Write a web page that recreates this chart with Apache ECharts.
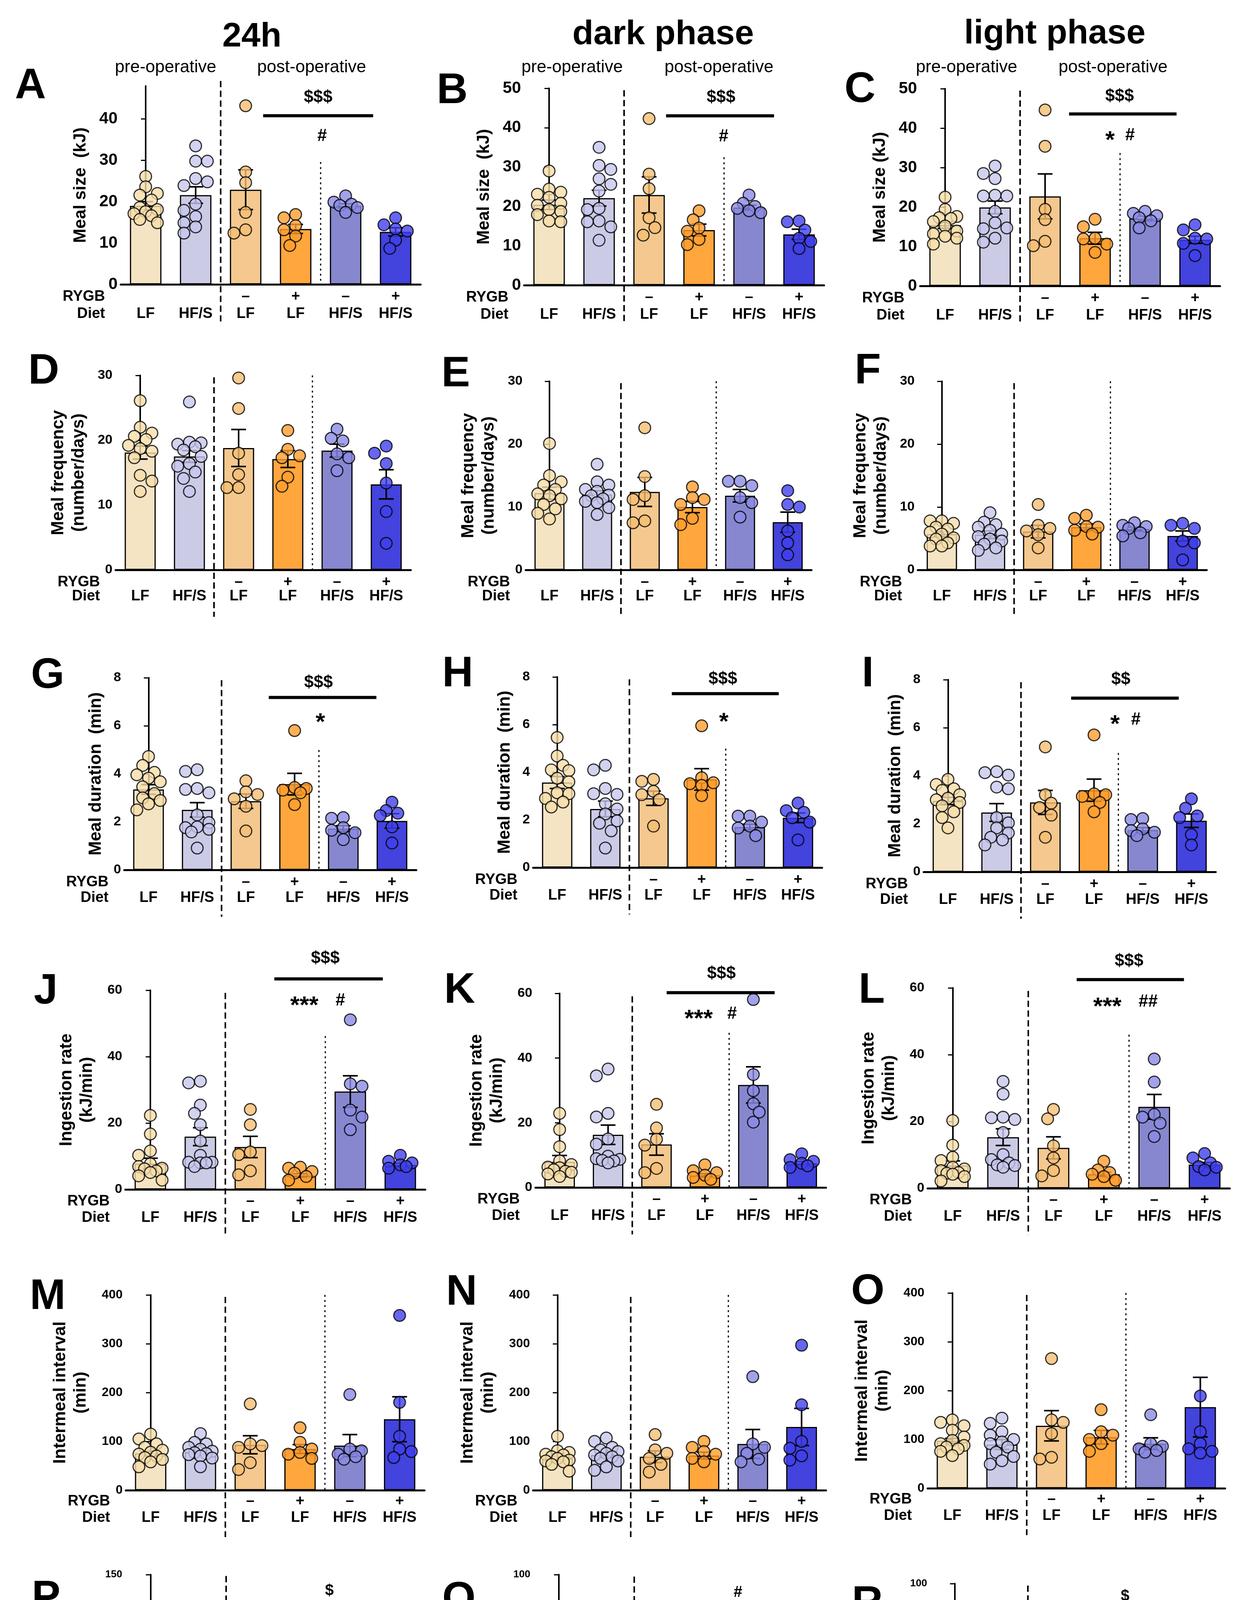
<!DOCTYPE html>
<html><head><meta charset="utf-8">
<script src="https://cdn.jsdelivr.net/npm/echarts@6/dist/echarts.min.js"></script>
<style>html,body{margin:0;padding:0;background:#fff}#c{width:3170px;height:4708px}</style>
</head><body><div id="c"></div>
<script>
// ---------- categories ----------
const categories = ['LF', 'HF/S', 'LF', 'LF', 'HF/S', 'HF/S'];
const rygbLabels = ['', '', '–', '+', '–', '+'];

// ---------- data ----------
const A_means = [19.0, 21.6, 22.9, 13.4, 19.0, 12.7];
const A_sems = [1.0, 2.0, 4.8, 1.1, 0.5, 1.0];
const A_points = [
  [26.1, 23.6, 22.0, 21.6, 20.4, 18.6, 18.1, 17.6, 17.1, 16.6, 15.7, 14.9],
  [33.5, 29.8, 29.8, 25.6, 24.8, 23.9, 19.4, 17.9, 16.4, 14.9, 13.9, 12.4],
  [43.2, 27.2, 24.6, 17.4, 13.2, 12.4],
  [16.9, 16.1, 14.2, 13.2, 11.7, 9.4],
  [21.4, 19.9, 19.4, 19.1, 18.6, 17.4],
  [16.1, 14.4, 13.4, 12.9, 10.7, 8.7]];

const B_means = [20.4, 22.1, 22.9, 14.0, 19.7, 12.9];
const B_sems = [1.2, 2.0, 4.6, 1.5, 0.6, 1.3];
const B_points = [
  [29.0, 24.4, 23.6, 23.1, 22.3, 20.8, 20.3, 19.2, 18.7, 17.9, 16.3, 16.1],
  [35.0, 30.4, 29.4, 27.0, 25.6, 23.9, 19.5, 19.2, 16.3, 16.1, 14.8, 11.4],
  [42.3, 28.2, 24.5, 17.1, 14.6, 12.7],
  [18.9, 16.6, 14.5, 13.7, 11.6, 10.3],
  [22.9, 20.8, 20.0, 19.5, 18.9, 18.4],
  [16.3, 16.1, 14.0, 11.9, 11.1, 9.3]];

const C_means = [15.4, 19.9, 22.7, 12.1, 17.1, 11.7];
const C_sems = [0.8, 1.6, 5.7, 1.5, 0.6, 0.9];
const C_points = [
  [22.5, 19.4, 17.6, 17.3, 17.1, 16.3, 15.2, 13.9, 13.2, 12.6, 12.1, 10.6],
  [30.4, 28.5, 27.2, 23.0, 22.8, 22.8, 18.9, 16.0, 14.7, 14.5, 12.1, 11.1],
  [44.6, 35.4, 19.4, 16.8, 11.3, 10.2],
  [16.9, 15.0, 12.1, 11.9, 10.6, 8.5],
  [18.9, 18.4, 17.8, 17.3, 16.5, 14.7],
  [15.5, 14.2, 12.1, 11.9, 10.8, 7.7]];

const D_means = [18.1, 17.5, 18.8, 17.1, 18.4, 13.2];
const D_sems = [1.0, 0.9, 2.85, 1.3, 1.0, 2.25];
const D_points = [
  [26.1, 22.0, 21.1, 20.6, 20.1, 19.2, 18.7, 18.3, 17.3, 14.6, 13.7, 12.1],
  [25.9, 19.7, 19.6, 19.4, 19.0, 18.5, 17.5, 16.4, 16.0, 15.1, 14.1, 12.1],
  [29.6, 24.9, 18.0, 14.7, 12.7, 12.7],
  [21.5, 18.6, 17.6, 17.3, 14.3, 12.9],
  [21.7, 20.3, 19.9, 17.9, 17.3, 15.3],
  [19.1, 18.0, 16.4, 13.4, 9.0, 4.1]];

const E_means = [12.2, 12.0, 12.4, 10.0, 11.8, 7.6];
const E_sems = [0.95, 0.6, 2.3, 0.9, 1.0, 1.6];
const E_points = [
  [20.1, 15.0, 14.0, 13.5, 12.8, 12.1, 11.8, 11.3, 10.4, 9.7, 9.0, 8.1],
  [16.8, 14.0, 13.5, 12.8, 12.5, 11.9, 11.8, 11.3, 10.9, 10.7, 9.9, 8.8],
  [22.6, 14.85, 11.8, 11.2, 7.8, 7.5],
  [13.2, 11.5, 11.2, 10.4, 8.2, 7.2],
  [14.1, 14.1, 13.4, 11.5, 10.7, 8.4],
  [12.6, 10.4, 10.0, 6.2, 4.3, 2.4]];

const F_means = [5.7, 5.6, 6.1, 6.8, 6.5, 5.4];
const F_sems = [0.4, 0.6, 1.0, 0.5, 0.3, 0.8];
const F_points = [
  [7.8, 7.8, 7.4, 6.8, 6.5, 6.0, 5.7, 5.1, 4.9, 4.3, 3.8, 3.8],
  [9.1, 7.6, 7.2, 6.8, 6.3, 5.7, 5.3, 4.9, 4.6, 4.1, 3.5, 3.1],
  [10.4, 7.1, 6.6, 6.2, 5.6, 3.5],
  [8.7, 8.2, 6.9, 6.8, 6.3, 5.7],
  [7.5, 7.1, 6.9, 6.6, 5.9, 5.4],
  [7.4, 7.1, 6.6, 4.6, 4.3, 1.6]];

const G_means = [3.35, 2.5, 2.86, 3.57, 1.72, 2.04];
const G_sems = [0.2, 0.3, 0.3, 0.45, 0.12, 0.3];
const G_points = [
  [4.72, 4.35, 4.06, 3.96, 3.82, 3.67, 3.46, 3.18, 3.0, 2.89, 2.75, 2.5],
  [4.17, 4.1, 3.39, 3.35, 3.21, 2.29, 1.97, 1.79, 1.76, 1.69, 1.58, 0.91],
  [3.71, 3.25, 3.14, 2.96, 2.65, 1.62],
  [5.8, 3.43, 3.39, 3.32, 3.21, 2.72],
  [2.18, 2.15, 1.76, 1.65, 1.55, 1.26],
  [2.82, 2.47, 2.36, 2.26, 1.79, 1.12]];

const H_means = [3.57, 2.46, 2.91, 3.7, 1.70, 2.09];
const H_sems = [0.25, 0.33, 0.3, 0.45, 0.12, 0.2];
const H_points = [
  [5.46, 4.68, 4.29, 4.1, 4.07, 3.75, 3.6, 3.14, 3.1, 2.9, 2.75, 2.54],
  [4.29, 4.1, 3.32, 3.1, 3.07, 2.68, 2.46, 2.25, 1.96, 1.86, 1.54, 0.82],
  [3.7, 3.62, 3.2, 3.06, 2.85, 1.74],
  [5.95, 3.77, 3.56, 3.52, 3.45, 3.02],
  [2.16, 2.16, 1.91, 1.74, 1.66, 1.34],
  [2.71, 2.39, 2.32, 2.09, 1.91, 1.16]];

const I_means = [2.95, 2.47, 2.89, 3.4, 1.74, 2.13];
const I_sems = [0.15, 0.37, 0.5, 0.46, 0.1, 0.28];
const I_points = [
  [3.85, 3.64, 3.46, 3.39, 3.21, 3.07, 3.0, 2.89, 2.75, 2.5, 2.26, 1.83],
  [4.17, 4.13, 4.03, 3.53, 3.46, 2.26, 2.04, 1.83, 1.62, 1.44, 1.33, 1.12],
  [5.2, 3.21, 2.86, 2.68, 2.36, 1.44],
  [5.7, 3.25, 3.21, 3.14, 2.89, 2.5],
  [2.22, 2.18, 1.79, 1.72, 1.65, 1.51],
  [3.04, 2.65, 2.33, 2.26, 1.55, 1.12]];

const J_means = [7.8, 15.9, 12.8, 4.2, 29.5, 7.4];
const J_sems = [1.6, 2.7, 3.2, 0.5, 4.75, 0.5];
const J_points = [
  [22.3, 16.7, 11.6, 10.3, 7.7, 6.9, 6.4, 6.2, 5.6, 5.1, 4.1, 2.8],
  [32.6, 32.1, 25.4, 22.9, 19.5, 14.6, 10.3, 8.2, 8.2, 8.0, 8.0, 6.9],
  [24.1, 19.5, 11.3, 10.5, 5.6, 4.4],
  [6.7, 6.4, 5.4, 4.9, 3.9, 2.8],
  [51.1, 31.8, 31.1, 23.9, 21.8, 18.0],
  [10.3, 8.5, 8.0, 7.4, 6.9, 6.4]];

const K_means = [7.9, 16.3, 13.3, 3.8, 31.7, 7.5];
const K_sems = [2.0, 3.0, 3.3, 0.5, 5.6, 0.5];
const K_points = [
  [22.9, 17.9, 12.6, 8.2, 7.1, 6.3, 6.1, 5.5, 5.0, 4.7, 4.2, 3.4],
  [36.6, 34.5, 22.9, 21.8, 15.0, 13.4, 9.7, 8.9, 8.7, 8.4, 8.2, 7.6],
  [25.7, 18.4, 14.9, 13.1, 5.9, 4.6],
  [7.0, 5.2, 4.6, 3.8, 3.1, 2.5],
  [58.1, 34.9, 29.9, 25.9, 23.3, 20.2],
  [10.4, 8.6, 8.1, 7.5, 6.7, 6.2]];

const L_means = [6.8, 15.3, 12.1, 4.2, 24.4, 7.1];
const L_sems = [1.4, 2.5, 3.3, 0.6, 3.7, 0.6];
const L_points = [
  [20.3, 12.9, 9.3, 8.3, 6.3, 5.8, 5.3, 4.7, 4.5, 4.2, 3.5, 2.2],
  [32.0, 28.2, 21.3, 21.1, 20.6, 16.7, 10.1, 8.6, 7.6, 7.0, 6.8, 6.3],
  [23.6, 20.8, 12.7, 9.1, 5.3, 3.7],
  [8.1, 5.5, 4.7, 4.2, 3.5, 2.4],
  [38.7, 31.8, 22.1, 21.3, 19.5, 15.5],
  [10.4, 9.1, 7.6, 6.5, 6.3, 5.5]];

const M_means = [75.7, 77.4, 93.1, 84.4, 91.4, 145.4];
const M_sems = [5, 4, 18.5, 9, 22.6, 46];
const M_points = [
  [115, 105, 95, 88, 82, 78, 74, 70, 67, 63, 58, 48],
  [116, 98, 95, 88, 84, 80, 77, 75, 73, 70, 66, 48],
  [176.8, 94.9, 91.4, 87.9, 56.5, 42.5],
  [128, 98.3, 84.4, 77.4, 73.9, 65.2],
  [196, 84.4, 80.9, 73.9, 68.7, 63.5],
  [358, 180, 110.5, 84.4, 79.2, 67]];

const N_means = [65.2, 72.2, 68.7, 71.1, 94.9, 129.7];
const N_sems = [4, 5, 12, 7, 29.6, 38];
const N_points = [
  [110.5, 80.9, 77.4, 73.9, 72.2, 68.7, 65.2, 61.7, 60, 58.2, 53, 39],
  [107, 100, 87.9, 82.6, 79.2, 75.7, 72.2, 68.7, 65.2, 60, 47.8, 40.8],
  [114, 82.6, 75.7, 65.2, 53, 37.3],
  [100, 87.9, 79.2, 73.9, 65.2, 58.2],
  [232.6, 94.9, 87.9, 75.7, 63.5, 58.2],
  [297, 175, 100, 86, 70.4, 61.7]];

const O_means = [97.3, 89.6, 128, 104.6, 91.4, 166.3];
const O_sems = [5, 10, 31, 14, 12, 61];
const O_points = [
  [140, 135, 128, 119, 105, 98, 91.4, 87.9, 84.4, 80.9, 75.7, 67],
  [143.7, 133, 115.8, 108.8, 100, 94.9, 91.4, 84.4, 73.9, 65.2, 56.5, 49.5],
  [265.7, 140, 135, 112, 63.5, 60],
  [161, 115.8, 108.8, 100, 91.4, 75.7],
  [150.7, 91.4, 86, 80.9, 77.4, 73.9],
  [189, 115.8, 91.4, 80.9, 75.7, 72.2]];

const P_means = [12.5, 10.9, 10.9, 14.3, 16.5, 31];
const P_sems = [1.3, 0.6, 1.0, 1.5, 7.8, 12.7];
const P_points = [
  [21.6, 17.6, 15.6, 14.9, 13.6, 12.9, 12.3, 10.9, 10.3, 9.6, 8.3, 6.9],
  [14.3, 12.9, 12.3, 11.6, 10.9, 10.3, 9.9, 9.3, 8.9, 8.5, 8.3, 7.6],
  [15.6, 13.6, 11.6, 10.3, 8.9, 8.3],
  [23, 15.6, 14.3, 12.9, 11.6, 9.6],
  [51.6, 13.6, 12.3, 10.9, 9.6, 7.6],
  [89.7, 43.6, 19.6, 13.6, 11.6, 8.9]];

const Q_means = [7.3, 7.3, 7.7, 10.0, 11.6, 21.7];
const Q_sems = [0.6, 0.7, 1.2, 0.8, 5.7, 8.3];
const Q_points = [
  [11.7, 10.9, 9.5, 8.6, 8.2, 7.7, 7.3, 6.9, 6.4, 6.0, 5.5, 4.6],
  [14.4, 10.9, 9.5, 8.6, 8.2, 7.7, 7.3, 6.9, 6.4, 6.0, 5.5, 4.6],
  [12.6, 11.7, 9.5, 8.2, 7.3, 6.4],
  [14.9, 13.5, 11.7, 10.0, 9.1, 8.2],
  [37.5, 9.1, 7.7, 6.9, 6.4, 5.5],
  [60.2, 30.4, 13.5, 11.7, 10.0, 8.2]];

const R_means = [17.9, 15.2, 15.2, 19.0, 24.4, 43.2];
const R_sems = [1.8, 1.5, 1.4, 3.2, 9.4, 19.3];
const R_points = [
  [45, 22.5, 21.6, 20.2, 19.3, 18.4, 17.5, 16.6, 15.6, 14.7, 13.8, 12.0],
  [24.4, 21.2, 20.2, 18.9, 17.5, 16.1, 14.7, 13.3, 12.0, 10.6, 9.7, 8.3],
  [22.1, 17.0, 16.1, 14.7, 13.8, 12.9],
  [32.2, 25.3, 21.6, 17.0, 15.6, 14.3],
  [69.5, 20.2, 17.9, 16.1, 13.3, 12.0],
  [55.2, 29.0, 16.6, 15.2, 13.8, 12.0]];

// ---------- styling / layout ----------
const FF = "'Liberation Sans', Arial, Helvetica, sans-serif";
const barColors = ['#F4E4C4', '#CBCBE6', '#F4C88E', '#FFA63D', '#8787CF', '#4343DD'];
const ptColors = ['#F8DDA9', '#C7C7EE', '#F6BE73', '#FF9E2E', '#8B8BE6', '#4040EE'];

const rowStyle = [
  {tick: 42, gap: 76, cat: 38, catLine: 44, catMargin: 10, below: 95, pt: 30, cap: 38, lw: 4},
  {tick: 34, gap: 68, cat: 38, catLine: 36, catMargin: 14, below: 120, pt: 30, cap: 38, lw: 4},
  {tick: 34, gap: 46, cat: 38, catLine: 40, catMargin: 12, below: 120, pt: 30, cap: 38, lw: 4},
  {tick: 34, gap: 72, cat: 38, catLine: 42, catMargin: 10, below: 120, pt: 30, cap: 38, lw: 4},
  {tick: 32, gap: 89, cat: 38, catLine: 42, catMargin: 8, below: 120, pt: 30, cap: 38, lw: 4},
  {tick: 26, gap: 90, cat: 34, catLine: 44, catMargin: 10, below: 120, pt: 25, cap: 30, lw: 3}
];

const panelDefs = [
  {key: 'A', means: A_means, sems: A_sems, points: A_points, row: 0, left: 309, zero: 728, h: 508, w: 768, max: 48, iv: 10, ticks: [0, 10, 20, 30, 40],
   title: 'Meal size  (kJ)', dashTop: 49.2, dotFrom: 29.6, sig: [2.35, 4.55, 40.8], notes: [['$$$', 3.45, 45.2], ['#', 3.53, 35.8]], letter: [78, 221]},
  {key: 'B', means: B_means, sems: B_sems, points: B_points, row: 0, left: 1342, zero: 730, h: 504, w: 768, max: 50, iv: 10,
   title: 'Meal size  (kJ)', dashTop: 49.5, dotFrom: 32.5, sig: [2.34, 4.5, 43.0], notes: [['$$$', 3.44, 47.6], ['#', 3.49, 37.7]], letter: [1158, 234]},
  {key: 'C', means: C_means, sems: C_sems, points: C_points, row: 0, left: 2356, zero: 732, h: 505, w: 768, max: 50, iv: 10,
   title: 'Meal size (kJ)', dashTop: 49.5, dotFrom: 33.7, sig: [2.48, 4.63, 43.6], notes: [['$$$', 3.49, 48.0], ['*', 3.3, 38.1], ['#', 3.7, 38.1]], letter: [2202, 231]},
  {key: 'D', means: D_means, sems: D_sems, points: D_points, row: 1, left: 296, zero: 1459, h: 498, w: 756, max: 30, iv: 10,
   title: 'Meal frequency\n(number/days)', dashTop: 29.7, dotFrom: 30, notes: [], letter: [112, 952]},
  {key: 'E', means: E_means, sems: E_sems, points: E_points, row: 1, left: 1346, zero: 1459, h: 483, w: 732, max: 30, iv: 10,
   title: 'Meal frequency\n(number/days)', dashTop: 29.7, dotFrom: 30, notes: [], letter: [1167, 959]},
  {key: 'F', means: F_means, sems: F_sems, points: F_points, row: 1, left: 2350, zero: 1459, h: 483, w: 740, max: 30, iv: 10,
   title: 'Meal frequency\n(number/days)', dashTop: 29.7, dotFrom: 30, notes: [], letter: [2222, 952]},
  {key: 'G', means: G_means, sems: G_sems, points: G_points, row: 2, left: 318, zero: 2227, h: 492, w: 748, max: 8, iv: 2,
   title: 'Meal duration  (min)', dashTop: 7.9, dotFrom: 4.99, sig: [2.47, 4.68, 7.18], notes: [['$$$', 3.49, 7.79], ['*', 3.53, 6.33]], letter: [122, 1731]},
  {key: 'H', means: H_means, sems: H_sems, points: H_points, row: 2, left: 1365, zero: 2221, h: 488, w: 740, max: 8, iv: 2,
   title: 'Meal duration  (min)', dashTop: 7.9, dotFrom: 4.99, sig: [2.38, 4.6, 7.3], notes: [['$$$', 3.44, 7.9], ['*', 3.46, 6.3]], letter: [1172, 1727]},
  {key: 'I', means: I_means, sems: I_sems, points: I_points, row: 2, left: 2365, zero: 2232, h: 492, w: 748, max: 8, iv: 2,
   title: 'Meal duration  (min)', dashTop: 7.9, dotFrom: 4.95, sig: [2.53, 4.74, 7.23], notes: [['$$', 3.55, 8.0], ['*', 3.43, 6.33], ['#', 3.86, 6.33]], letter: [2222, 1727]},
  {key: 'J', means: J_means, sems: J_sems, points: J_points, row: 3, left: 321, zero: 3045, h: 510, w: 768, max: 60, iv: 20,
   title: 'Ingestion rate\n(kJ/min)', dashTop: 59.2, dotFrom: 46.2, sig: [2.48, 4.65, 63.4], notes: [['$$$', 3.5, 69.6], ['***', 3.08, 56.8], ['#', 3.8, 56.8]], letter: [117, 2539]},
  {key: 'K', means: K_means, sems: K_sems, points: K_points, row: 3, left: 1371, zero: 3040, h: 497, w: 744, max: 60, iv: 20,
   title: 'Ingestion rate\n(kJ/min)', dashTop: 59.1, dotFrom: 47.8, sig: [2.21, 4.44, 60.2], notes: [['$$$', 3.34, 66.0], ['***', 2.87, 53.6], ['#', 3.56, 53.6]], letter: [1177, 2537]},
  {key: 'L', means: L_means, sems: L_sems, points: L_points, row: 3, left: 2375, zero: 3042, h: 513, w: 774, max: 60, iv: 20,
   title: 'Ingestion rate\n(kJ/min)', dashTop: 59.1, dotFrom: 46, sig: [2.46, 4.59, 62.5], notes: [['$$$', 3.5, 68.0], ['***', 3.07, 55.8], ['##', 3.88, 55.8]], letter: [2232, 2537]},
  {key: 'M', means: M_means, sems: M_sems, points: M_points, row: 4, left: 322, zero: 3815, h: 500, w: 765, max: 400, iv: 100,
   title: 'Intermeal interval\n(min)', dashTop: 396, dotFrom: 400, notes: [], letter: [122, 3321]},
  {key: 'N', means: N_means, sems: N_sems, points: N_points, row: 4, left: 1365, zero: 3815, h: 500, w: 750, max: 400, iv: 100,
   title: 'Intermeal interval\n(min)', dashTop: 396, dotFrom: 400, notes: [], letter: [1182, 3310]},
  {key: 'O', means: O_means, sems: O_sems, points: O_points, row: 4, left: 2375, zero: 3810, h: 500, w: 762, max: 400, iv: 100,
   title: 'Intermeal interval\n(min)', dashTop: 396, dotFrom: 400, notes: [], letter: [2222, 3308]},
  {key: 'P', means: P_means, sems: P_sems, points: P_points, row: 5, left: 321, zero: 4541, h: 510, w: 774, max: 150, iv: 50,
   title: 'Satiety ratio\n(min/kJ)', dashTop: 149, dotFrom: 124.4, sig: [2.45, 4.65, 126], notes: [['$', 3.55, 137.7]], letter: [118, 4093]},
  {key: 'Q', means: Q_means, sems: Q_sems, points: Q_points, row: 5, left: 1366, zero: 4541, h: 510, w: 774, max: 100, iv: 20,
   title: 'Satiety ratio\n(min/kJ)', dashTop: 99, dotFrom: 82.9, notes: [['#', 3.56, 90.9]], letter: [1175, 4095]},
  {key: 'R', means: R_means, sems: R_sems, points: R_points, row: 5, left: 2382, zero: 4547, h: 493, w: 750, max: 100, iv: 20,
   title: 'Satiety ratio\n(min/kJ)', dashTop: 99, dotFrom: 84.6, sig: [2.42, 4.58, 85.8], notes: [['$', 3.49, 93.4]], letter: [2221, 4107]}
];

// beeswarm-style horizontal spreading of points (layout only)
function swarm(vals, pxPerUnit, band, d) {
  const order = vals.map((v, i) => i).sort((a, b) => vals[b] - vals[a]);
  const placed = [];
  const off = new Array(vals.length).fill(0);
  const lim = band * 0.3;
  const step = d * 0.5;
  order.forEach((i, n) => {
    const y = vals[i] * pxPerUnit;
    const cands = [0];
    for (let k = 1; k * step <= lim; k++) {
      if (n % 2) cands.push(-k * step, k * step); else cands.push(k * step, -k * step);
    }
    let chosen = null, bestScore = -1, bestX = 0;
    for (const x of cands) {
      let mind = Infinity;
      for (const p of placed) mind = Math.min(mind, Math.hypot(p.x - x, p.y - y));
      if (mind >= d * 0.85) { chosen = x; break; }
      if (mind > bestScore) { bestScore = mind; bestX = x; }
    }
    if (chosen === null) chosen = bestX;
    placed.push({x: chosen, y});
    off[i] = chosen / band;
  });
  return off;
}

const grids = [], xAxes = [], yAxes = [], series = [], graphics = [];

function txt(x, y, text, size, weight, align) {
  return {
    type: 'text', x: x, y: y, silent: true,
    style: {text: text, fontSize: size, fontWeight: weight, fontFamily: FF, fill: '#000',
      align: align || 'center', verticalAlign: 'middle', textAlign: align || 'center', textVerticalAlign: 'middle'}
  };
}

panelDefs.forEach((p, k) => {
  const rs = rowStyle[p.row];
  const top = p.zero - p.h;
  grids.push({left: p.left, top: top, width: p.w, height: p.h});

  xAxes.push({
    type: 'category', gridIndex: k, data: categories,
    axisLine: {show: true, lineStyle: {color: '#000', width: 5}},
    axisTick: {show: false},
    axisLabel: {
      interval: 0, margin: rs.catMargin, color: '#000',
      formatter: (v, i) => '{r|' + (rygbLabels[i] || ' ') + '}\n{d|' + v + '}',
      rich: {
        r: {fontSize: rs.cat, fontWeight: 'bold', fontFamily: FF, lineHeight: rs.catLine, color: '#000'},
        d: {fontSize: rs.cat, fontWeight: 'bold', fontFamily: FF, lineHeight: rs.catLine, color: '#000'}
      }
    },
    splitLine: {show: false}
  });
  xAxes.push({type: 'value', gridIndex: k, min: -0.5, max: 5.5, show: false});

  const yAx = {
    type: 'value', gridIndex: k, min: 0, max: p.max, interval: p.iv,
    axisLine: {show: true, lineStyle: {color: '#000', width: 4}},
    axisTick: {show: true, length: 12, lineStyle: {color: '#000', width: 3}},
    axisLabel: {color: '#000', fontSize: rs.tick, fontWeight: 'bold', fontFamily: FF, margin: 8},
    splitLine: {show: false},
    name: p.title, nameLocation: 'middle', nameGap: rs.gap,
    nameTextStyle: {fontSize: 44, fontWeight: 'bold', fontFamily: FF, color: '#000', lineHeight: 52}
  };
  if (p.ticks) {
    yAx.axisTick.customValues = p.ticks;
    yAx.axisLabel.customValues = p.ticks;
  }
  yAxes.push(yAx);

  // bars
  series.push({
    type: 'bar', xAxisIndex: 2 * k, yAxisIndex: k, barWidth: '63%', z: 2, silent: true,
    data: p.means.map((m, i) => ({value: m, itemStyle: {color: barColors[i], borderColor: '#000', borderWidth: 3}}))
  });

  // error bars (mean ± SEM)
  series.push({
    type: 'custom', xAxisIndex: 2 * k + 1, yAxisIndex: k, z: 3, clip: false, silent: true,
    data: p.means.map((m, i) => [i, m, p.sems[i]]),
    renderItem: (params, api) => {
      const x = api.value(0), m = api.value(1), s = api.value(2);
      const a = api.coord([x, m + s]), b = api.coord([x, m - s]);
      const hw = rs.cap / 2;
      const st = {stroke: '#000', lineWidth: rs.lw};
      return {type: 'group', children: [
        {type: 'line', shape: {x1: a[0], y1: a[1], x2: b[0], y2: b[1]}, style: st},
        {type: 'line', shape: {x1: a[0] - hw, y1: a[1], x2: a[0] + hw, y2: a[1]}, style: st},
        {type: 'line', shape: {x1: b[0] - hw, y1: b[1], x2: b[0] + hw, y2: b[1]}, style: st}
      ]};
    }
  });

  // individual points
  const pxU = p.h / p.max, band = p.w / 6;
  const pts = [];
  p.points.forEach((vals, g) => {
    const off = swarm(vals, pxU, band, rs.pt);
    vals.forEach((v, j) => pts.push({value: [g + off[j], v], itemStyle: {color: ptColors[g]}}));
  });
  series.push({
    type: 'scatter', xAxisIndex: 2 * k + 1, yAxisIndex: k, z: 6, silent: true,
    symbol: 'circle', symbolSize: rs.pt,
    itemStyle: {borderColor: '#000', borderWidth: 3},
    data: pts
  });

  // dividers, significance bars and marks
  series.push({
    type: 'custom', xAxisIndex: 2 * k + 1, yAxisIndex: k, z: 8, clip: false, silent: true,
    data: [[0, 0]],
    renderItem: (params, api) => {
      const ch = [];
      const dTop = api.coord([1.5, p.dashTop]), dBot = api.coord([1.5, 0]);
      ch.push({type: 'line', shape: {x1: dTop[0], y1: dTop[1], x2: dBot[0], y2: dBot[1] + rs.below},
        style: {stroke: '#000', lineWidth: 4, lineDash: [16, 9]}});
      const oTop = api.coord([3.5, p.dotFrom]), oBot = api.coord([3.5, 0]);
      ch.push({type: 'line', shape: {x1: oTop[0], y1: oTop[1], x2: oBot[0], y2: oBot[1]},
        style: {stroke: '#000', lineWidth: 3, lineDash: [5, 8]}});
      if (p.sig) {
        const s1 = api.coord([p.sig[0], p.sig[2]]), s2 = api.coord([p.sig[1], p.sig[2]]);
        ch.push({type: 'line', shape: {x1: s1[0], y1: s1[1], x2: s2[0], y2: s2[1]},
          style: {stroke: '#000', lineWidth: 8}});
      }
      p.notes.forEach(n => {
        const c = api.coord([n[1], n[2]]);
        const star = n[0].indexOf('*') >= 0;
        const fs = star ? 62 : (p.row === 5 ? 40 : 44);
        ch.push({type: 'text', x: c[0], y: c[1] + (star ? fs * 0.22 : 0),
          style: {text: n[0], fontSize: fs, fontWeight: 'bold', fontFamily: FF, fill: '#000',
            align: 'center', verticalAlign: 'middle', textAlign: 'center', textVerticalAlign: 'middle'}});
      });
      return {type: 'group', children: ch};
    }
  });

  // panel letter
  graphics.push(txt(p.letter[0], p.letter[1], p.key, 110, 'bold'));
  // row headers
  const yR = p.zero + rs.catMargin + rs.catLine / 2;
  graphics.push(txt(p.left - 40, yR, 'RYGB', rs.cat, 'bold', 'right'));
  graphics.push(txt(p.left - 40, yR + rs.catLine, 'Diet', rs.cat, 'bold', 'right'));
});

// column titles and period labels
graphics.push(txt(645, 95, '24h', 88, 'bold'));
graphics.push(txt(1698, 89, 'dark phase', 88, 'bold'));
graphics.push(txt(2701, 87, 'light phase', 88, 'bold'));
[[424, 1], [798, 0], [1465, 1], [1841, 0], [2475, 1], [2850, 0]].forEach(a => {
  graphics.push(txt(a[0], 173, a[1] ? 'pre-operative' : 'post-operative', 44, 'normal'));
});

const chart = echarts.init(document.getElementById('c'), null, {renderer: 'canvas', width: 3170, height: 4708});
chart.setOption({
  animation: false,
  backgroundColor: '#ffffff',
  grid: grids, xAxis: xAxes, yAxis: yAxes, series: series,
  graphic: graphics
});
</script></body></html>
